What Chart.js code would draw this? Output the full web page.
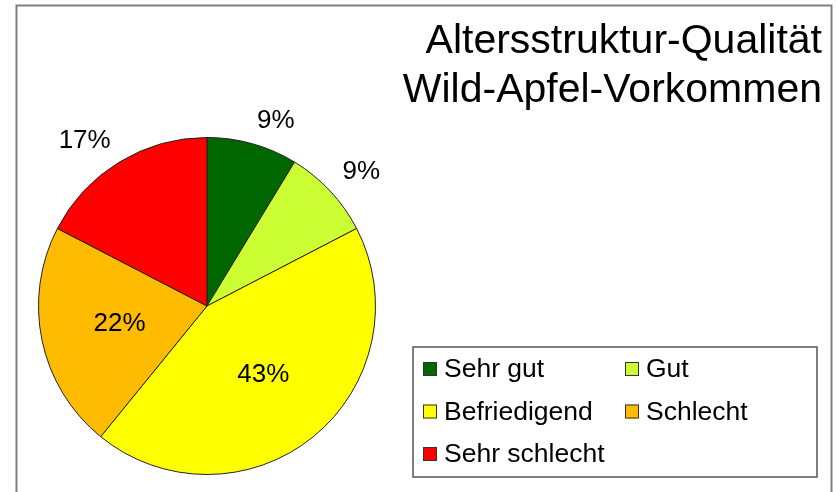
<!DOCTYPE html>
<html>
<head>
<meta charset="utf-8">
<script src="https://cdn.jsdelivr.net/npm/chart.js@4.4.0/dist/chart.umd.min.js"></script>
<style>
  html, body { margin: 0; padding: 0; background: #fff; }
  #wrap { width: 836px; height: 492px; }
</style>
</head>
<body>
<div id="wrap"><canvas id="chart" width="836" height="492"></canvas></div>
<script>
// Altersstruktur der Wild-Apfel-Vorkommen (Anzahl Vorkommen je Klasse)
const categories = ['Sehr gut', 'Gut', 'Befriedigend', 'Schlecht', 'Sehr schlecht'];
const counts = [2, 2, 10, 5, 4];
const sliceColors = ['#006600', '#ccff33', '#ffff00', '#ffbb00', '#ff0000'];
const titleLines = ['Altersstruktur-Qualität', 'Wild-Apfel-Vorkommen'];

const FONT = '"Liberation Sans", Arial, sans-serif';

// gray frame around the whole chart
const framePlugin = {
    id: 'frame',
    beforeDraw(chart) {
        const ctx = chart.ctx;
        ctx.save();
        ctx.strokeStyle = '#808080';
        ctx.lineWidth = 2;
        ctx.strokeRect(16.5, 5.5, 815, 500);
        ctx.restore();
    }
};

const titlePlugin = {
    id: 'rightTitle',
    afterDraw(chart) {
        const ctx = chart.ctx;
        ctx.save();
        ctx.font = '41px ' + FONT;
        ctx.fillStyle = '#000';
        ctx.textAlign = 'right';
        ctx.textBaseline = 'alphabetic';
        titleLines.forEach((line, i) => ctx.fillText(line, 822, 53 + i * 49));
        ctx.restore();
    }
};

// percent labels: big slices inside, small ones outside
const pctLabels = {
    id: 'pctLabels',
    afterDatasetsDraw(chart) {
        const ctx = chart.ctx;
        const values = chart.data.datasets[0].data;
        const total = values.reduce((a, b) => a + b, 0);
        ctx.save();
        ctx.font = '26px ' + FONT;
        ctx.fillStyle = '#000';
        chart.getDatasetMeta(0).data.forEach((arc, i) => {
            const p = arc.getProps(['x', 'y', 'startAngle', 'endAngle', 'outerRadius'], true);
            const frac = values[i] / total;
            const mid = (p.startAngle + p.endAngle) / 2;
            const cos = Math.cos(mid), sin = Math.sin(mid);
            const txt = Math.round(frac * 100) + '%';
            if (frac < 0.2) {
                const r = p.outerRadius * 1.1;
                ctx.textAlign = cos >= 0 ? 'left' : 'right';
                ctx.textBaseline = 'alphabetic';
                ctx.fillText(txt, p.x + cos * r, p.y + sin * r);
            } else {
                const r = p.outerRadius * 0.53;
                ctx.textAlign = 'center';
                ctx.textBaseline = 'middle';
                ctx.fillText(txt, p.x + cos * r, p.y + sin * r);
            }
        });
        ctx.restore();
    }
};

// boxed legend, two columns
const boxLegend = {
    id: 'boxLegend',
    afterDraw(chart) {
        const ctx = chart.ctx;
        const colors = chart.data.datasets[0].backgroundColor;
        ctx.save();
        ctx.strokeStyle = '#555';
        ctx.lineWidth = 1.5;
        ctx.strokeRect(413, 347, 404, 130);
        ctx.font = '26.5px ' + FONT;
        ctx.textBaseline = 'middle';
        ctx.textAlign = 'left';
        chart.data.labels.forEach((lab, i) => {
            const x = i % 2 === 0 ? 423 : 625;
            const y = 369 + Math.floor(i / 2) * 42.5;
            ctx.fillStyle = colors[i];
            ctx.fillRect(x, y - 7, 14, 14);
            ctx.strokeStyle = '#333';
            ctx.lineWidth = 1;
            ctx.strokeRect(x + 0.5, y - 6.5, 13, 13);
            ctx.fillStyle = '#000';
            ctx.fillText(lab, x + 21, y + 1);
        });
        ctx.restore();
    }
};

new Chart(document.getElementById('chart').getContext('2d'), {
    type: 'pie',
    data: {
        labels: categories,
        datasets: [{
            data: counts,
            backgroundColor: sliceColors,
            borderColor: '#222',
            borderWidth: 1
        }]
    },
    options: {
        responsive: false,
        animation: false,
        layout: { padding: { left: 38, top: 137, right: 460, bottom: 17 } },
        plugins: {
            legend: { display: false },
            tooltip: { enabled: false }
        }
    },
    plugins: [framePlugin, pctLabels, titlePlugin, boxLegend]
});
</script>
</body>
</html>
